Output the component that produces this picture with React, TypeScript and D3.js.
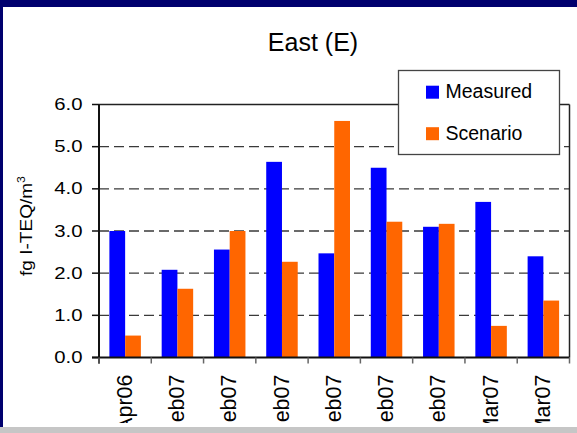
import React from "react";
import * as d3 from "d3";

const categories = ["Apr06", "Feb07", "Feb07", "Feb07", "Feb07", "Feb07", "Feb07", "Mar07", "Mar07"];
const measured = [3.0, 2.08, 2.56, 4.64, 2.47, 4.5, 3.1, 3.69, 2.4];
const scenario = [0.52, 1.63, 3.0, 2.27, 5.61, 3.22, 3.17, 0.75, 1.35];
const seriesNames = ["Measured", "Scenario"];
const seriesColors = ["#0000FF", "#FF6600"];
const yTicks = [0, 1, 2, 3, 4, 5, 6];
const title = "East (E)";

const W = 577;
const H = 433;
const plot = { left: 99, right: 569.5, top: 104.5, bottom: 357.5 };

export default function App() {
  const idx = categories.map((_, i) => i);
  const x0 = d3.scaleBand<number>().domain(idx).range([plot.left, plot.right]).paddingInner(0).paddingOuter(0);
  const x1 = d3
    .scaleBand<string>()
    .domain(seriesNames)
    .range([0, x0.bandwidth()])
    .paddingInner(0)
    .paddingOuter(0.66);
  const y = d3.scaleLinear().domain([0, 6]).range([plot.bottom, plot.top]);
  const data = [measured, scenario];
  const font = "'Liberation Sans', Arial, sans-serif";
  const boundaries = idx.map((i) => x0(i) as number).concat([plot.right]);

  return (
    <svg
      width={W}
      height={H}
      style={{ position: "absolute", left: 0, top: 0, background: "#fff" }}
      fontFamily={font}
    >
      <defs>
        <clipPath id="clipBody">
          <rect x={0} y={0} width={W} height={423} />
        </clipPath>
      </defs>
      <rect x={0} y={0} width={W} height={H} fill="#fff" />
      {/* frame */}
      <rect x={0} y={0} width={W} height={7} fill="#00006e" />
      <rect x={0} y={0} width={3} height={427} fill="#00006e" />
      <rect x={0} y={427} width={W} height={6} fill="#c6c6c6" />

      <text x={313} y={51} fontSize={25} textAnchor="middle" fill="#000">
        {title}
      </text>

      {/* gridlines */}
      {yTicks
        .filter((t) => t > 0 && t < 6)
        .map((t) => (
          <line
            key={"g" + t}
            x1={plot.left}
            x2={plot.right}
            y1={y(t)}
            y2={y(t)}
            stroke="#3a3a3a"
            strokeWidth={1.3}
            strokeDasharray="10,5"
          />
        ))}
      {/* top and right border */}
      <line x1={plot.left} x2={plot.right} y1={y(6)} y2={y(6)} stroke="#222" strokeWidth={1.5} />
      <line x1={plot.right} x2={plot.right} y1={y(6)} y2={plot.bottom} stroke="#222" strokeWidth={1.5} />

      {/* bars */}
      {data.map((vals, s) =>
        vals.map((v, i) => (
          <rect
            key={s + "-" + i}
            x={(x0(i) as number) + (x1(seriesNames[s]) as number)}
            y={y(v)}
            width={x1.bandwidth()}
            height={plot.bottom - y(v)}
            fill={seriesColors[s]}
          />
        ))
      )}

      {/* y axis */}
      <line x1={plot.left} x2={plot.left} y1={plot.top} y2={plot.bottom + 6} stroke="#111" strokeWidth={2} />
      {yTicks.map((t) => (
        <g key={"yt" + t}>
          <line x1={plot.left - 7} x2={plot.left} y1={y(t)} y2={y(t)} stroke="#111" strokeWidth={1.5} />
          <text
            transform={`translate(82.5,${y(t)}) scale(1.27,1)`}
            fontSize={16}
            textAnchor="end"
            dy="0.35em"
            fill="#000"
          >
            {t.toFixed(1)}
          </text>
        </g>
      ))}
      <text
        transform={`translate(32,${(plot.top + plot.bottom) / 2 - 5}) rotate(-90) scale(1.12,1)`}
        fontSize={17}
        textAnchor="middle"
        fill="#000"
      >
        fg I-TEQ/m
        <tspan fontSize={11} dy="-0.65em">
          3
        </tspan>
      </text>

      {/* x axis */}
      <line x1={plot.left - 7} x2={plot.right} y1={plot.bottom} y2={plot.bottom} stroke="#111" strokeWidth={2} />
      {boundaries.map((bx, i) => (
        <line key={"xt" + i} x1={bx} x2={bx} y1={plot.bottom} y2={plot.bottom + 6} stroke="#666" strokeWidth={1.5} />
      ))}
      <g clipPath="url(#clipBody)">
        {idx.map((i) => (
          <text
            key={"xl" + i}
            transform={`translate(${(x0(i) as number) + x0.bandwidth() / 2 - 1},374.5) rotate(-90)`}
            fontSize={21.5}
            textAnchor="end"
            dy="0.35em"
            fill="#000"
          >
            {categories[i]}
          </text>
        ))}
      </g>

      {/* legend */}
      <rect x={398.5} y={70.5} width={161} height={84} fill="#fff" stroke="#444" strokeWidth={1.3} />
      {seriesNames.map((name, s) => (
        <g key={"lg" + s}>
          <rect x={426} y={85.7 + s * 41.5} width={13} height={13} fill={seriesColors[s]} />
          <text x={445.5} y={98.3 + s * 41.5} fontSize={19.5} fill="#000">
            {name}
          </text>
        </g>
      ))}
    </svg>
  );
}
